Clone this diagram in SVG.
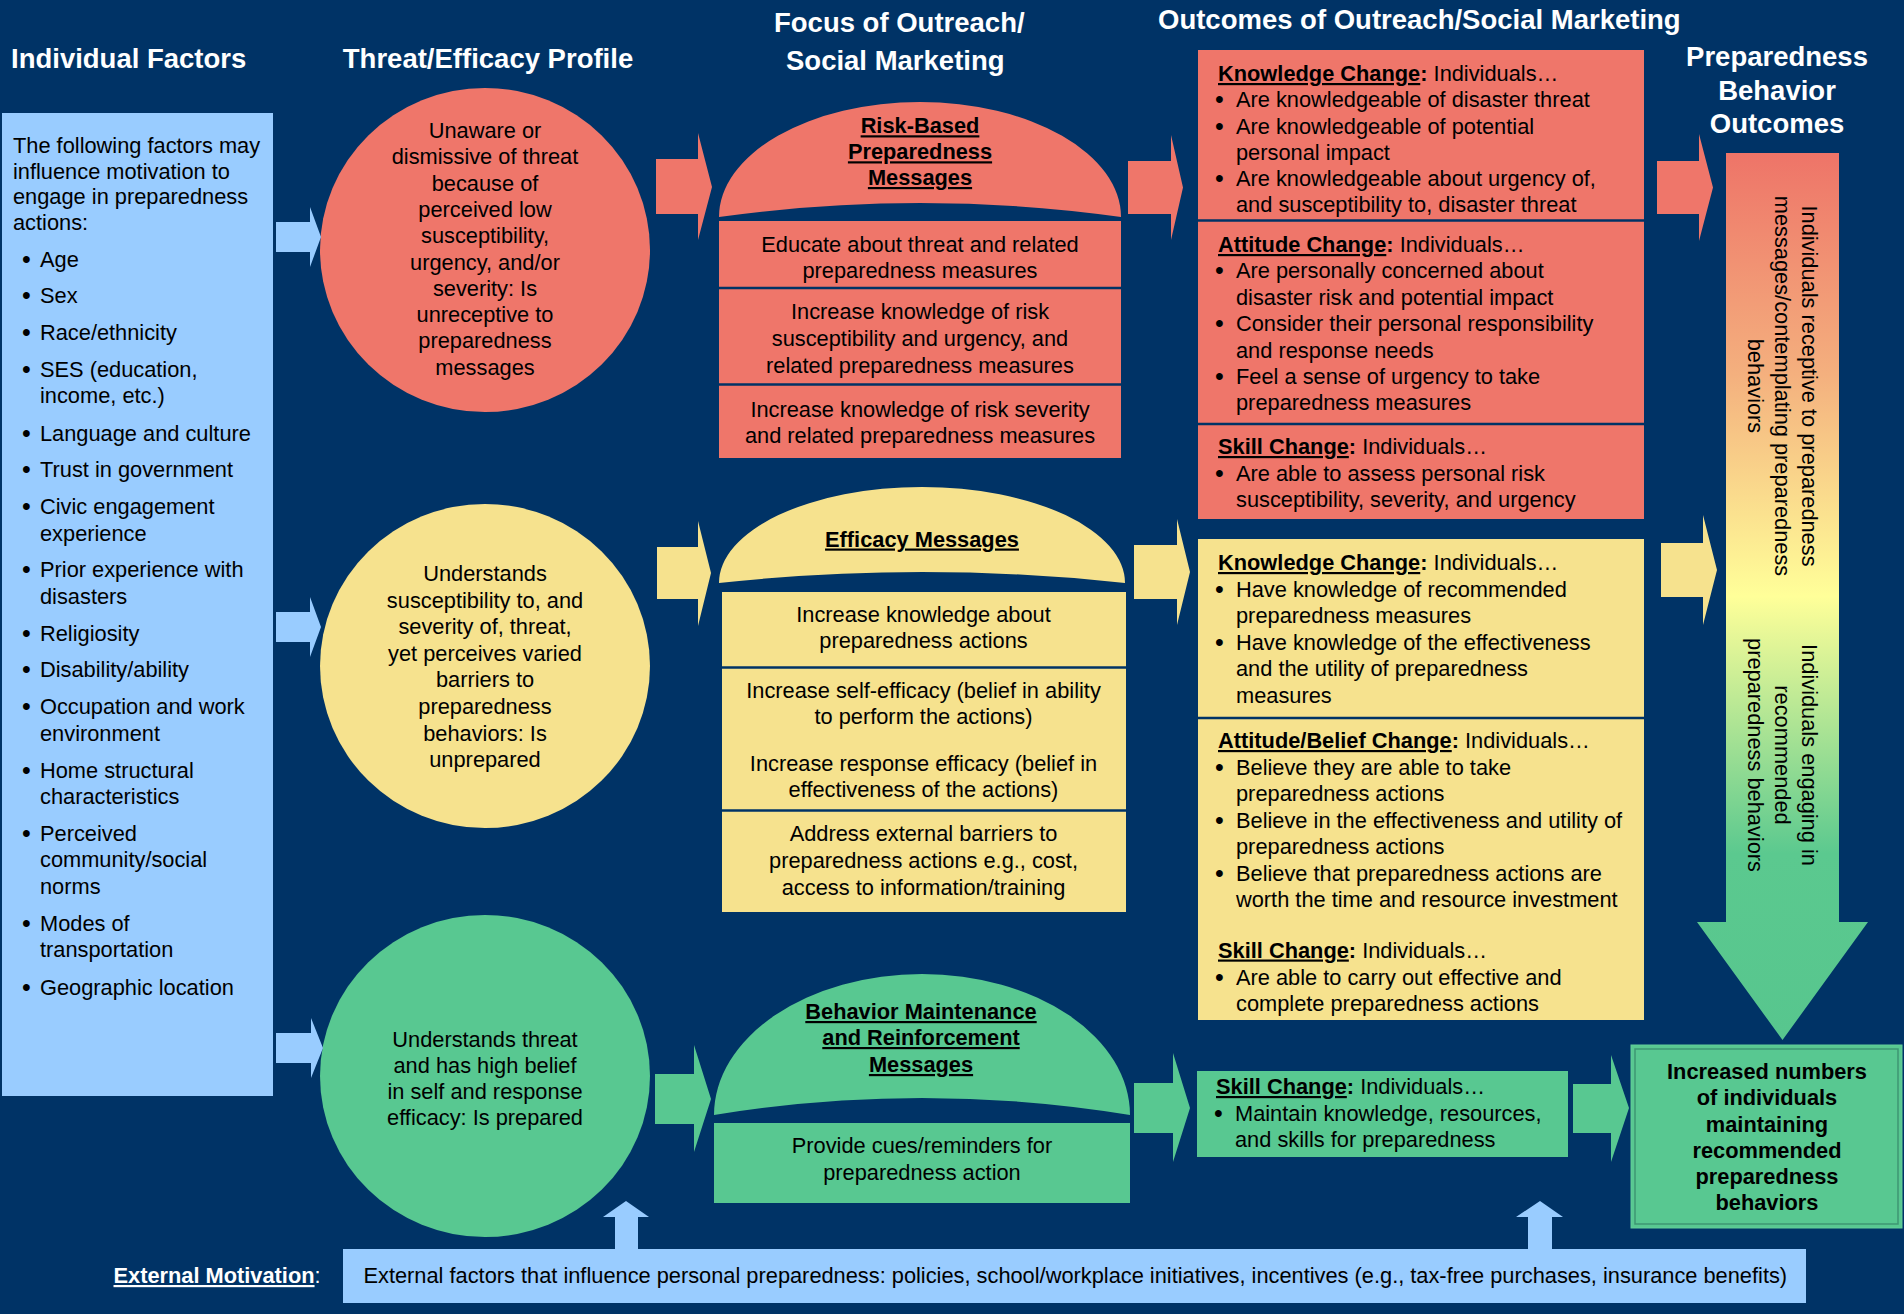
<svg xmlns="http://www.w3.org/2000/svg" width="1904" height="1314" viewBox="0 0 1904 1314">
<defs>
<style>
text{font-family:"Liberation Sans",Arial,sans-serif;font-size:21.8px;fill:#000}
.title{font-weight:bold;font-size:27.5px;fill:#fff}
.b{font-weight:bold}
.u{text-decoration:underline}
.c{text-anchor:middle}
.w{fill:#fff}
.bl{font-size:25px}
.red{fill:#EF766A}
.yel{fill:#F6E28E}
.grn{fill:#58C891}
.blu{fill:#99CCFF}
.sep{stroke:#003366;stroke-width:2.5}
</style>
<linearGradient id="bigGrad" gradientUnits="userSpaceOnUse" x1="0" y1="153" x2="0" y2="1040">
<stop offset="0" stop-color="#EE7468"/>
<stop offset="0.25" stop-color="#F4B07E"/>
<stop offset="0.5" stop-color="#FFFF99"/>
<stop offset="0.79" stop-color="#5BC98F"/>
<stop offset="1" stop-color="#57C68E"/>
</linearGradient>
</defs>
<rect x="0" y="0" width="1904" height="1314" fill="#003366"/>

<g id="titles">
<text class="title" x="11" y="68">Individual Factors</text>
<text class="title c" x="488" y="68">Threat/Efficacy Profile</text>
<text class="title" x="774" y="32">Focus of Outreach/</text>
<text class="title" x="786" y="70">Social Marketing</text>
<text class="title" x="1158" y="29">Outcomes of Outreach/Social Marketing</text>
<text class="title c" x="1777" y="66">Preparedness</text>
<text class="title c" x="1777" y="100">Behavior</text>
<text class="title c" x="1777" y="133">Outcomes</text>
</g>

<g id="individual-factors">
<rect class="blu" x="2" y="113" width="271" height="983"/>
<text x="13" y="153">The following factors may</text>
<text x="13" y="178.5">influence motivation to</text>
<text x="13" y="204">engage in preparedness</text>
<text x="13" y="230">actions:</text>
<g>
<text class="bl" x="22" y="268">•</text><text x="40" y="267">Age</text>
<text class="bl" x="22" y="304">•</text><text x="40" y="303">Sex</text>
<text class="bl" x="22" y="341">•</text><text x="40" y="340">Race/ethnicity</text>
<text class="bl" x="22" y="378">•</text><text x="40" y="377">SES (education,</text><text x="40" y="402.5">income, etc.)</text>
<text class="bl" x="22" y="442">•</text><text x="40" y="441">Language and culture</text>
<text class="bl" x="22" y="478">•</text><text x="40" y="477">Trust in government</text>
<text class="bl" x="22" y="515">•</text><text x="40" y="514">Civic engagement</text><text x="40" y="541">experience</text>
<text class="bl" x="22" y="578">•</text><text x="40" y="577">Prior experience with</text><text x="40" y="604">disasters</text>
<text class="bl" x="22" y="642">•</text><text x="40" y="641">Religiosity</text>
<text class="bl" x="22" y="678">•</text><text x="40" y="677">Disability/ability</text>
<text class="bl" x="22" y="715">•</text><text x="40" y="714">Occupation and work</text><text x="40" y="741">environment</text>
<text class="bl" x="22" y="779">•</text><text x="40" y="778">Home structural</text><text x="40" y="804">characteristics</text>
<text class="bl" x="22" y="842">•</text><text x="40" y="841">Perceived</text><text x="40" y="867">community/social</text><text x="40" y="894">norms</text>
<text class="bl" x="22" y="932">•</text><text x="40" y="931">Modes of</text><text x="40" y="957">transportation</text>
<text class="bl" x="22" y="996">•</text><text x="40" y="995">Geographic location</text>
</g>
</g>

<g id="profile-unaware">
<ellipse class="red" cx="485" cy="250" rx="165" ry="162"/>
<text class="c" x="485" y="138">Unaware or</text>
<text class="c" x="485" y="164.3">dismissive of threat</text>
<text class="c" x="485" y="190.6">because of</text>
<text class="c" x="485" y="216.9">perceived low</text>
<text class="c" x="485" y="243.2">susceptibility,</text>
<text class="c" x="485" y="269.5">urgency, and/or</text>
<text class="c" x="485" y="295.8">severity: Is</text>
<text class="c" x="485" y="322.1">unreceptive to</text>
<text class="c" x="485" y="348.4">preparedness</text>
<text class="c" x="485" y="374.7">messages</text>
</g>

<g id="profile-unprepared">
<ellipse class="yel" cx="485" cy="666" rx="165" ry="162"/>
<text class="c" x="485" y="581">Understands</text>
<text class="c" x="485" y="607.6">susceptibility to, and</text>
<text class="c" x="485" y="634.2">severity of, threat,</text>
<text class="c" x="485" y="660.8">yet perceives varied</text>
<text class="c" x="485" y="687.4">barriers to</text>
<text class="c" x="485" y="714">preparedness</text>
<text class="c" x="485" y="740.6">behaviors: Is</text>
<text class="c" x="485" y="767.2">unprepared</text>
</g>

<g id="profile-prepared">
<ellipse class="grn" cx="485" cy="1076" rx="165" ry="161"/>
<text class="c" x="485" y="1047">Understands threat</text>
<text class="c" x="485" y="1073">and has high belief</text>
<text class="c" x="485" y="1099">in self and response</text>
<text class="c" x="485" y="1125">efficacy: Is prepared</text>
</g>

<g id="risk-messages">
<path class="red" d="M719,217 A201,115 0 0 1 1121,217 Q920,189 719,217 Z"/>
<text class="c b u" x="920" y="133.3">Risk-Based</text>
<text class="c b u" x="920" y="159.3">Preparedness</text>
<text class="c b u" x="920" y="185">Messages</text>
<rect class="red" x="719" y="221" width="402" height="237"/>
<line class="sep" x1="719" y1="288" x2="1121" y2="288"/>
<line class="sep" x1="719" y1="384.5" x2="1121" y2="384.5"/>
<text class="c" x="920" y="251.7">Educate about threat and related</text>
<text class="c" x="920" y="278.3">preparedness measures</text>
<text class="c" x="920" y="319.3">Increase knowledge of risk</text>
<text class="c" x="920" y="346.3">susceptibility and urgency, and</text>
<text class="c" x="920" y="372.7">related preparedness measures</text>
<text class="c" x="920" y="416.7">Increase knowledge of risk severity</text>
<text class="c" x="920" y="442.7">and related preparedness measures</text>
</g>

<g id="efficacy-messages">
<path class="yel" d="M719,583 A203,96 0 0 1 1125,583 Q922,561 719,583 Z"/>
<text class="c b u" x="922" y="546.5">Efficacy Messages</text>
<rect class="yel" x="722" y="592" width="404" height="320"/>
<line class="sep" x1="722" y1="667.5" x2="1126" y2="667.5"/>
<line class="sep" x1="722" y1="810.5" x2="1126" y2="810.5"/>
<text class="c" x="923.5" y="622">Increase knowledge about</text>
<text class="c" x="923.5" y="648">preparedness actions</text>
<text class="c" x="923.5" y="698">Increase self-efficacy (belief in ability</text>
<text class="c" x="923.5" y="724">to perform the actions)</text>
<text class="c" x="923.5" y="771">Increase response efficacy (belief in</text>
<text class="c" x="923.5" y="797">effectiveness of the actions)</text>
<text class="c" x="923.5" y="841">Address external barriers to</text>
<text class="c" x="923.5" y="868">preparedness actions e.g., cost,</text>
<text class="c" x="923.5" y="895">access to information/training</text>
</g>

<g id="maintenance-messages">
<path class="grn" d="M714,1115 A208,141 0 0 1 1130,1115 Q922,1081 714,1115 Z"/>
<text class="c b u" x="921" y="1019">Behavior Maintenance</text>
<text class="c b u" x="921" y="1045">and Reinforcement</text>
<text class="c b u" x="921" y="1072">Messages</text>
<rect class="grn" x="714" y="1123" width="416" height="80"/>
<text class="c" x="922" y="1153">Provide cues/reminders for</text>
<text class="c" x="922" y="1180">preparedness action</text>
</g>

<g id="outcomes-risk">
<rect class="red" x="1198" y="50" width="446" height="469"/>
<line class="sep" x1="1198" y1="220.5" x2="1644" y2="220.5"/>
<line class="sep" x1="1198" y1="424" x2="1644" y2="424"/>
<text x="1218" y="81"><tspan class="b u">Knowledge Change</tspan><tspan class="b">:</tspan> Individuals…</text>
<text class="bl" x="1215" y="108">•</text><text x="1236" y="107">Are knowledgeable of disaster threat</text>
<text class="bl" x="1215" y="134.5">•</text><text x="1236" y="133.5">Are knowledgeable of potential</text>
<text x="1236" y="159.5">personal impact</text>
<text class="bl" x="1215" y="187">•</text><text x="1236" y="186">Are knowledgeable about urgency of,</text>
<text x="1236" y="212">and susceptibility to, disaster threat</text>
<text x="1218" y="252"><tspan class="b u">Attitude Change</tspan><tspan class="b">:</tspan> Individuals…</text>
<text class="bl" x="1215" y="279.4">•</text><text x="1236" y="278.4">Are personally concerned about</text>
<text x="1236" y="304.8">disaster risk and potential impact</text>
<text class="bl" x="1215" y="332.2">•</text><text x="1236" y="331.2">Consider their personal responsibility</text>
<text x="1236" y="357.6">and response needs</text>
<text class="bl" x="1215" y="385">•</text><text x="1236" y="384">Feel a sense of urgency to take</text>
<text x="1236" y="410.4">preparedness measures</text>
<text x="1218" y="454"><tspan class="b u">Skill Change</tspan><tspan class="b">:</tspan> Individuals…</text>
<text class="bl" x="1215" y="482">•</text><text x="1236" y="481">Are able to assess personal risk</text>
<text x="1236" y="507">susceptibility, severity, and urgency</text>
</g>

<g id="outcomes-efficacy">
<rect class="yel" x="1198" y="539" width="446" height="481"/>
<line class="sep" x1="1198" y1="718" x2="1644" y2="718"/>
<text x="1218" y="570"><tspan class="b u">Knowledge Change</tspan><tspan class="b">:</tspan> Individuals…</text>
<text class="bl" x="1215" y="597.5">•</text><text x="1236" y="596.5">Have knowledge of recommended</text>
<text x="1236" y="623">preparedness measures</text>
<text class="bl" x="1215" y="650.5">•</text><text x="1236" y="649.5">Have knowledge of the effectiveness</text>
<text x="1236" y="676">and the utility of preparedness</text>
<text x="1236" y="702.5">measures</text>
<text x="1218" y="748"><tspan class="b u">Attitude/Belief Change</tspan><tspan class="b">:</tspan> Individuals…</text>
<text class="bl" x="1215" y="775.5">•</text><text x="1236" y="774.5">Believe they are able to take</text>
<text x="1236" y="801">preparedness actions</text>
<text class="bl" x="1215" y="828.5">•</text><text x="1236" y="827.5">Believe in the effectiveness and utility of</text>
<text x="1236" y="854">preparedness actions</text>
<text class="bl" x="1215" y="881.5">•</text><text x="1236" y="880.5">Believe that preparedness actions are</text>
<text x="1236" y="907">worth the time and resource investment</text>
<text x="1218" y="957.5"><tspan class="b u">Skill Change</tspan><tspan class="b">:</tspan> Individuals…</text>
<text class="bl" x="1215" y="985.5">•</text><text x="1236" y="984.5">Are able to carry out effective and</text>
<text x="1236" y="1011">complete preparedness actions</text>
</g>

<g id="outcomes-maintenance">
<rect class="grn" x="1197" y="1071" width="371" height="86"/>
<text x="1216" y="1094"><tspan class="b u">Skill Change</tspan><tspan class="b">:</tspan> Individuals…</text>
<text class="bl" x="1214" y="1121.5">•</text><text x="1235" y="1120.5">Maintain knowledge, resources,</text>
<text x="1235" y="1147">and skills for preparedness</text>
</g>

<g id="behavior-outcomes">
<polygon fill="url(#bigGrad)" points="1726,153 1839,153 1839,922 1868,922 1782.5,1040 1697,922 1726,922"/>
<g transform="translate(1802,386) rotate(90)"><text class="c" x="0" y="0">Individuals receptive to preparedness</text></g>
<g transform="translate(1775,386) rotate(90)"><text class="c" x="0" y="0">messages/contemplating preparedness</text></g>
<g transform="translate(1748,386) rotate(90)"><text class="c" x="0" y="0">behaviors</text></g>
<g transform="translate(1802,755) rotate(90)"><text class="c" x="0" y="0">Individuals engaging in</text></g>
<g transform="translate(1775,755) rotate(90)"><text class="c" x="0" y="0">recommended</text></g>
<g transform="translate(1748,755) rotate(90)"><text class="c" x="0" y="0">preparedness behaviors</text></g>
</g>

<g id="final-outcome">
<rect class="grn" x="1631" y="1045" width="271" height="183" stroke="#62CE98" stroke-width="1"/>
<rect x="1635" y="1049" width="263" height="175" fill="none" stroke="#3E9673" stroke-width="1.5"/>
<text class="c b" x="1767" y="1079">Increased numbers</text>
<text class="c b" x="1767" y="1105">of individuals</text>
<text class="c b" x="1767" y="1131.5">maintaining</text>
<text class="c b" x="1767" y="1158">recommended</text>
<text class="c b" x="1767" y="1184">preparedness</text>
<text class="c b" x="1767" y="1210">behaviors</text>
</g>

<g id="external-motivation">
<text class="w" x="113.5" y="1283"><tspan class="b u w">External Motivation</tspan>:</text>
<rect class="blu" x="343" y="1249" width="1463" height="54"/>
<text x="363.5" y="1283">External factors that influence personal preparedness: policies, school/workplace initiatives, incentives (e.g., tax-free purchases, insurance benefits)</text>
</g>

<g id="connectors">
<polygon class="blu" points="276,222 310,222 310,207 321,237 310,267 310,252 276,252"/>
<polygon class="blu" points="276,612 310,612 310,597 321,627 310,657 310,642 276,642"/>
<polygon class="blu" points="276,1033 311,1033 311,1018 323,1048 311,1078 311,1063 276,1063"/>
<polygon class="red" points="656,159 698,159 698,133 712,187 698,240 698,214 656,214"/>
<polygon class="yel" points="657,547 698,547 698,521 711,573 698,626 698,599 657,599"/>
<polygon class="grn" points="655,1074 694,1074 694,1045 711,1099 694,1152 694,1124 655,1124"/>
<polygon class="red" points="1128,161 1171,161 1171,135 1183,187.5 1171,240 1171,214 1128,214"/>
<polygon class="yel" points="1134,545 1177,545 1177,519 1190,572 1177,625 1177,599 1134,599"/>
<polygon class="grn" points="1134,1083 1173,1083 1173,1053 1190,1108 1173,1162 1173,1133 1134,1133"/>
<polygon class="red" points="1657,161 1699,161 1699,134 1713,187.5 1699,241 1699,214 1657,214"/>
<polygon class="yel" points="1661,543 1703,543 1703,515 1717,570 1703,625 1703,597 1661,597"/>
<polygon class="grn" points="1573,1084 1611,1084 1611,1055 1629,1108 1611,1162 1611,1133 1573,1133"/>
<polygon class="blu" points="615,1249 615,1217 603,1217 626,1201 649,1217 638,1217 638,1249"/>
<polygon class="blu" points="1528,1249 1528,1217 1516,1217 1540,1201 1563,1217 1552,1217 1552,1249"/>
</g>
</svg>
